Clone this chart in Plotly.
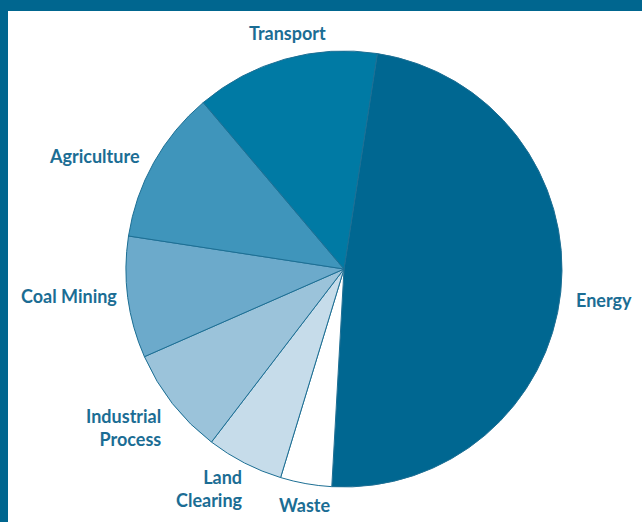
import plotly.graph_objects as go

categories = ["Energy", "Waste", "Land Clearing", "Industrial Process",
              "Coal Mining", "Agriculture", "Transport"]
values = [48.4, 3.8, 5.7, 8.0, 9.0, 11.4, 13.6]
label_text = ["Energy", "Waste", "Land<br>Clearing", "Industrial<br>Process",
              "Coal Mining", "Agriculture", "Transport"]

colors = ["#006791", "#ffffff", "#c6dcea", "#9bc3da", "#6caacb", "#3f95bb", "#007aa4"]

W, H = 642, 522
cx, cy, R = 344, 269, 218

# label positions in pixels: (x, y, xanchor)
label_pos = [
    (574, 300, "left"),
    (304, 505, "center"),
    (245, 488, "right"),
    (163, 427, "right"),
    (119, 296, "right"),
    (142, 156, "right"),
    (287, 33, "center"),
]

fig = go.Figure(go.Pie(
    labels=categories,
    values=values,
    sort=False,
    direction="clockwise",
    rotation=8.8,
    textinfo="none",
    hoverinfo="label+percent",
    marker=dict(colors=colors, line=dict(color="#1d6f94", width=1)),
    domain=dict(x=[(cx - R) / W, (cx + R) / W], y=[1 - (cy + R) / H, 1 - (cy - R) / H]),
    showlegend=False,
))

for txt, (px, py, xa) in zip(label_text, label_pos):
    fig.add_annotation(
        x=px / W, y=1 - py / H, xref="paper", yref="paper",
        text=txt, showarrow=False, xanchor=xa, yanchor="middle",
        align=xa if xa != "center" else "center",
        font=dict(family="Lato", size=18, color="#1b6d94", weight="bold"),
    )

# frame bars (top and left)
fig.add_shape(type="rect", xref="paper", yref="paper", x0=0, x1=1, y0=1 - 11 / H, y1=1,
              fillcolor="#00668f", line_width=0, layer="above")
fig.add_shape(type="rect", xref="paper", yref="paper", x0=0, x1=8 / W, y0=0, y1=1,
              fillcolor="#00668f", line_width=0, layer="above")

fig.update_layout(
    width=W, height=H,
    margin=dict(l=0, r=0, t=0, b=0),
    paper_bgcolor="white",
    plot_bgcolor="white",
)

fig.write_html("out.html", config={"displayModeBar": False},
               post_script="document.body.style.margin='0px';")
